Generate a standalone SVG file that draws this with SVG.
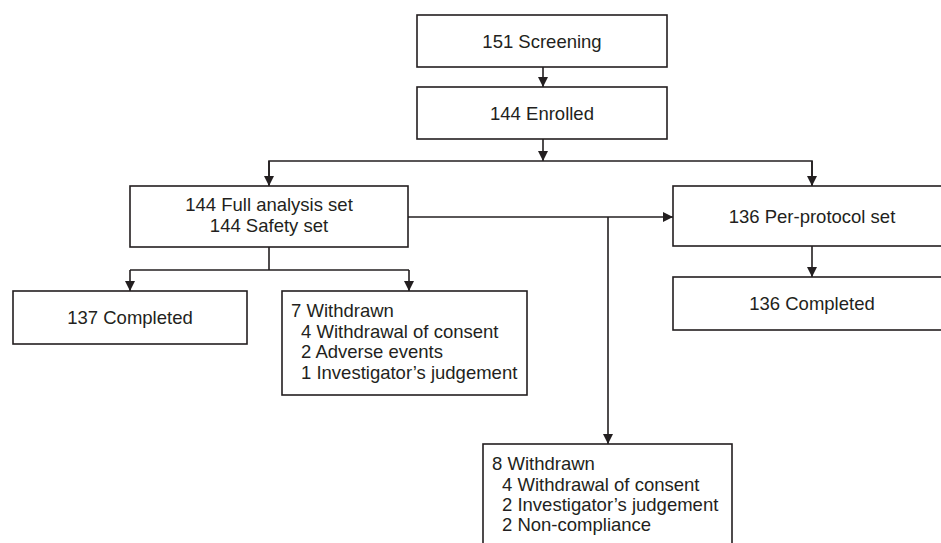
<svg xmlns="http://www.w3.org/2000/svg" width="941" height="543" viewBox="0 0 941 543">
<defs>
<marker id="ah" markerUnits="userSpaceOnUse" markerWidth="12" markerHeight="12" refX="10" refY="5" orient="auto">
<path d="M0,0 L10,5 L0,10 Z" fill="#231f20"/>
</marker>
<style>
.box{fill:#fff;stroke:#231f20;stroke-width:1.6}
.ln{fill:none;stroke:#231f20;stroke-width:1.6}
.ar{fill:none;stroke:#231f20;stroke-width:1.6;marker-end:url(#ah)}
text{font-family:"Liberation Sans",Arial,sans-serif;font-size:18.5px;fill:#231f20}
.c{text-anchor:middle}
</style>
</defs>
<rect width="941" height="543" fill="#fff"/>
<g id="connectors">
<line class="ar" x1="543" y1="67" x2="543" y2="87"/>
<line class="ar" x1="543" y1="139" x2="543" y2="161"/>
<polyline class="ln" points="269,185 269,161 812,161 812,185"/>
<line class="ar" x1="269" y1="161" x2="269" y2="186"/>
<line class="ar" x1="812" y1="161" x2="812" y2="186"/>
<line class="ar" x1="408" y1="217" x2="673" y2="217"/>
<line class="ar" x1="608" y1="217" x2="608" y2="444"/>
<line class="ar" x1="812" y1="246" x2="812" y2="277"/>
<polyline class="ln" points="269,247 269,270"/>
<polyline class="ln" points="130,270 409,270"/>
<line class="ar" x1="130" y1="270" x2="130" y2="291"/>
<line class="ar" x1="409" y1="270" x2="409" y2="291"/>
</g>
<g id="screening">
<rect class="box" x="417" y="15" width="250" height="52"/>
<text class="c" x="542" y="47.5">151 Screening</text>
</g>
<g id="enrolled">
<rect class="box" x="417" y="87" width="250" height="52"/>
<text class="c" x="542" y="119.5">144 Enrolled</text>
</g>
<g id="fas">
<rect class="box" x="130" y="186" width="278" height="61"/>
<text class="c" x="269" y="211">144 Full analysis set</text>
<text class="c" x="269" y="232">144 Safety set</text>
</g>
<g id="completed137">
<rect class="box" x="13" y="291" width="234" height="53"/>
<text class="c" x="130" y="324">137 Completed</text>
</g>
<g id="withdrawn7">
<rect class="box" x="282" y="291" width="245" height="104"/>
<text x="291" y="317">7 Withdrawn</text>
<text x="301" y="337.7">4 Withdrawal of consent</text>
<text x="301" y="358.4">2 Adverse events</text>
<text x="301" y="379">1 Investigator’s judgement</text>
</g>
<g id="pps">
<rect class="box" x="673" y="186" width="280" height="60"/>
<text class="c" x="812" y="222.5">136 Per-protocol set</text>
</g>
<g id="completed136">
<rect class="box" x="673" y="277" width="280" height="53"/>
<text class="c" x="812" y="310">136 Completed</text>
</g>
<g id="withdrawn8">
<rect class="box" x="483" y="444" width="249" height="110"/>
<text x="492" y="470">8 Withdrawn</text>
<text x="502" y="490.5">4 Withdrawal of consent</text>
<text x="502" y="511">2 Investigator’s judgement</text>
<text x="502" y="531">2 Non-compliance</text>
</g>
</svg>
